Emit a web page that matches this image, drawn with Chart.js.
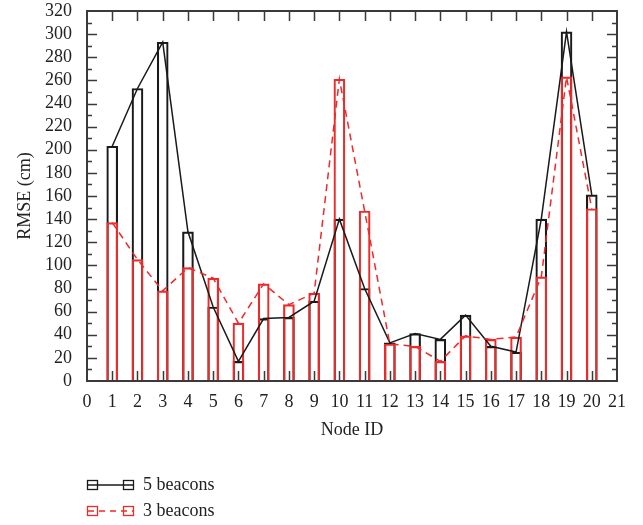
<!DOCTYPE html>
<html>
<head>
<meta charset="utf-8">
<title>RMSE per node</title>
<script src="https://cdn.jsdelivr.net/npm/chart.js@4"></script>
<style>
  html, body { margin: 0; padding: 0; background: #fff; }
  canvas { display: block; }
</style>
</head>
<body>
<canvas id="rmseChart" width="643" height="525"></canvas>
<script>
  // data
  const nodeIds = [1, 2, 3, 4, 5, 6, 7, 8, 9, 10, 11, 12, 13, 14, 15, 16, 17, 18, 19, 20];
  const rmse5Beacons = [203, 253, 293, 129, 64, 17, 54, 55, 69, 140, 80, 33, 41, 36, 57, 30, 25, 140, 302, 161];
  const rmse3Beacons = [137, 105, 78, 98, 89, 50, 84, 66, 76, 261, 147, 32, 30, 17, 39, 36, 38, 90, 263, 149];
  const seriesNames = ["5 beacons", "3 beacons"];
  const yTickStep = 20;

  const BLACK = "#1a1a1a";
  const RED = "#ee2a2a";
  const FRAME = "#3a3a3a";
  const FONT = "'Liberation Serif', 'DejaVu Serif', serif";
  const FSIZE = 18;

  const toPoints = vals => nodeIds.map((n, i) => ({ x: n, y: vals[i] }));

  // ---------- frame, inner ticks and legend ----------
  const framePlugin = {
    id: "frameTicks",
    afterDatasetsDraw(chart) {
      const { ctx, chartArea: a, scales } = chart;
      const xs = scales.x, ys = scales.y;
      ctx.save();
      ctx.strokeStyle = FRAME;
      ctx.lineWidth = 1.5;
      ctx.beginPath();
      for (let v = 1; v < 21; v++) {
        const px = Math.round(xs.getPixelForValue(v)) + 0.5;
        ctx.moveTo(px, a.bottom); ctx.lineTo(px, a.bottom - 10);
        ctx.moveTo(px, a.top); ctx.lineTo(px, a.top + 10);
      }
      for (let v = 10; v < 320; v += 10) {
        const py = Math.round(ys.getPixelForValue(v)) + 0.5;
        const len = v % 20 === 0 ? 10 : 5;
        ctx.moveTo(a.left, py); ctx.lineTo(a.left + len, py);
        ctx.moveTo(a.right, py); ctx.lineTo(a.right - len, py);
      }
      ctx.stroke();
      ctx.lineWidth = 2;
      ctx.strokeRect(a.left, a.top, a.right - a.left, a.bottom - a.top);
      ctx.restore();
    },
    afterDraw(chart) {
      const { ctx, chartArea: a } = chart;
      const items = [
        { label: seriesNames[0], color: BLACK, dash: [] , y: 485 },
        { label: seriesNames[1], color: RED, dash: [6, 5], y: 511 }
      ];
      ctx.save();
      items.forEach(it => {
        const x0 = a.left + 1, x1 = a.left + 46;
        ctx.strokeStyle = it.color;
        ctx.lineWidth = 1.3;
        ctx.setLineDash(it.dash);
        ctx.beginPath();
        ctx.moveTo(x0, it.y); ctx.lineTo(x1, it.y);
        ctx.stroke();
        ctx.setLineDash([]);
        ctx.strokeRect(x0 - 0.5, it.y - 4.5, 10, 9);
        ctx.strokeRect(x1 - 9.5, it.y - 4.5, 10, 9);
        ctx.fillStyle = "#222";
        ctx.font = FSIZE + "px " + FONT;
        ctx.textBaseline = "middle";
        ctx.fillText(it.label, a.left + 56, it.y);
      });
      ctx.restore();
    }
  };

  const barStyle = color => ({
    type: "bar",
    backgroundColor: "rgba(0,0,0,0)",
    borderColor: color,
    borderWidth: 1.5,
    barThickness: 11,
    grouped: false
  });

  new Chart(document.getElementById("rmseChart"), {
    type: "bar",
    data: {
      datasets: [
        { ...barStyle(BLACK), label: seriesNames[0] + " bars", data: toPoints(rmse5Beacons), order: 4 },
        { ...barStyle(RED), label: seriesNames[1] + " bars", data: toPoints(rmse3Beacons), order: 3 },
        {
          type: "line", label: seriesNames[0], data: toPoints(rmse5Beacons),
          borderColor: BLACK, borderWidth: 1.5, pointRadius: 0, tension: 0, order: 2
        },
        {
          type: "line", label: seriesNames[1], data: toPoints(rmse3Beacons),
          borderColor: RED, borderWidth: 1.5, borderDash: [7, 5], pointRadius: 0, tension: 0, order: 1
        }
      ]
    },
    options: {
      responsive: false,
      animation: false,
      layout: { padding: { left: 0, right: 26, top: 11, bottom: 74 } },
      plugins: { legend: { display: false }, tooltip: { enabled: false } },
      scales: {
        x: {
          type: "linear",
          min: 0, max: 21,
          offset: false,
          grid: { display: false },
          border: { display: false },
          ticks: { stepSize: 1, autoSkip: false, maxRotation: 0, padding: 2, color: "#222", font: { family: FONT, size: FSIZE } },
          title: { display: true, text: "Node ID", color: "#222", font: { family: FONT, size: FSIZE }, padding: { bottom: 10 } },
          afterFit(scale) { scale.height = 70; }
        },
        y: {
          min: 0, max: 320,
          grid: { display: false },
          border: { display: false },
          ticks: { stepSize: yTickStep, autoSkip: false, padding: 7, color: "#222", font: { family: FONT, size: FSIZE } },
          title: { display: true, text: "RMSE (cm)", color: "#222", font: { family: FONT, size: FSIZE }, padding: { top: 14 } },
          afterFit(scale) { scale.width = 87; scale.paddingTop = 0; scale.paddingBottom = 0; }
        }
      }
    },
    plugins: [framePlugin]
  });
</script>
</body>
</html>
